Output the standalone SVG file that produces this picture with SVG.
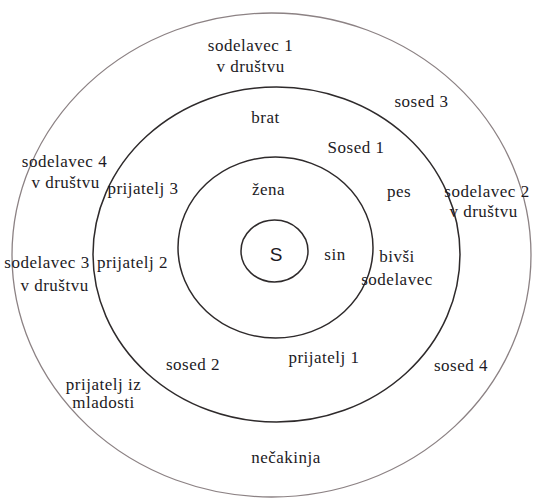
<svg xmlns="http://www.w3.org/2000/svg" width="533" height="499" viewBox="0 0 533 499">
<style>
.ring{fill:none;stroke:#2e2a2b;stroke-width:1.5}
.outer{fill:none;stroke:#8c8284;stroke-width:1.3}
text{font-family:"Liberation Serif","Times New Roman",serif;font-size:17px;fill:#1c1a24;text-anchor:middle;letter-spacing:0.5px}
.s{font-family:"Liberation Sans",Arial,sans-serif;font-size:19px;letter-spacing:0}
</style>
<rect width="533" height="499" fill="#ffffff"/>
<g id="rings">
<ellipse id="ring-outer" class="outer" cx="271.5" cy="255" rx="259.5" ry="242"/>
<ellipse id="ring-middle" class="ring" cx="276.5" cy="254.5" rx="183.5" ry="167.5"/>
<ellipse id="ring-inner" class="ring" cx="275.5" cy="247.5" rx="97.5" ry="90.5"/>
<ellipse id="ring-self" class="ring" cx="274.5" cy="251" rx="33.5" ry="31"/>
</g>
<g id="connectors"/>
<g id="n-s"><text class="s" x="276" y="261">S</text></g>
<g id="n-sin"><text x="335" y="260">sin</text></g>
<g id="n-zena"><text x="268.5" y="195">žena</text></g>
<g id="n-brat"><text x="265.5" y="123">brat</text></g>
<g id="n-sosed1"><text x="356" y="153">Sosed 1</text></g>
<g id="n-pes"><text x="399" y="197">pes</text></g>
<g id="n-bivsi"><text x="397" y="262">bivši</text><text x="397" y="285">sodelavec</text></g>
<g id="n-prijatelj3"><text x="143" y="194">prijatelj 3</text></g>
<g id="n-prijatelj2"><text x="132.5" y="268">prijatelj 2</text></g>
<g id="n-sosed2"><text x="193" y="370">sosed 2</text></g>
<g id="n-prijatelj1"><text x="324" y="363">prijatelj 1</text></g>
<g id="n-sodelavec1"><text x="250.5" y="51">sodelavec 1</text><text x="250.5" y="72">v društvu</text></g>
<g id="n-sosed3"><text x="421.5" y="107">sosed 3</text></g>
<g id="n-sodelavec4"><text x="64.5" y="167">sodelavec 4</text><text x="65.5" y="188">v društvu</text></g>
<g id="n-sodelavec2"><text x="487" y="197">sodelavec 2</text><text x="483.5" y="217">v društvu</text></g>
<g id="n-sodelavec3"><text x="47" y="268">sodelavec 3</text><text x="54.5" y="291">v društvu</text></g>
<g id="n-sosed4"><text x="461" y="371">sosed 4</text></g>
<g id="n-mladost"><text x="103.5" y="390">prijatelj iz</text><text x="103.5" y="408">mladosti</text></g>
<g id="n-necakinja"><text x="286" y="463">nečakinja</text></g>
</svg>
